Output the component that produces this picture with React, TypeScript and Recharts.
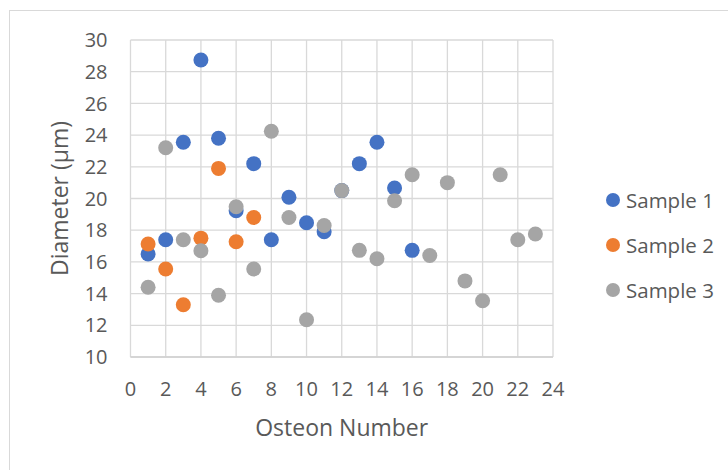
import React from 'react';
import { ScatterChart, Scatter, XAxis, YAxis, CartesianGrid } from 'recharts';

const xTicks = [0, 2, 4, 6, 8, 10, 12, 14, 16, 18, 20, 22, 24];
const yTicks = [10, 12, 14, 16, 18, 20, 22, 24, 26, 28, 30];

const sample1X = [1, 2, 3, 4, 5, 6, 7, 8, 9, 10, 11, 12, 13, 14, 15, 16];
const sample1Y = [16.5, 17.4, 23.55, 28.74, 23.8, 19.23, 22.2, 17.4, 20.08, 18.47, 17.9, 20.5, 22.2, 23.55, 20.66, 16.73];

const sample2X = [1, 2, 3, 4, 5, 6, 7];
const sample2Y = [17.13, 15.55, 13.3, 17.5, 21.9, 17.27, 18.8];

const sample3X = [1, 2, 3, 4, 5, 6, 7, 8, 9, 10, 11, 12, 13, 14, 15, 16, 17, 18, 19, 20, 21, 22, 23];
const sample3Y = [14.4, 23.2, 17.4, 16.7, 13.9, 19.48, 15.55, 24.24, 18.8, 12.35, 18.3, 20.5, 16.73, 16.2, 19.86, 21.5, 16.4, 21.0, 14.8, 13.55, 21.5, 17.4, 17.76];

const seriesNames = ['Sample 1', 'Sample 2', 'Sample 3'];
const seriesColors = ['#4472C4', '#ED7D31', '#A5A5A5'];

const toPoints = (xs: number[], ys: number[]) => xs.map((x, i) => ({ x, y: ys[i] }));
const data1 = toPoints(sample1X, sample1Y);
const data2 = toPoints(sample2X, sample2Y);
const data3 = toPoints(sample3X, sample3Y);

const FONT = '"Open Sans", sans-serif';
const TEXT = '#595959';

const dot = (color: string) => (props: any) => (
  <circle cx={props.cx} cy={props.cy} r={7.5} fill={color} />
);

const LegendBox = () => (
  <div style={{ position: 'absolute', left: 605, top: 177, fontFamily: FONT, fontSize: 20.5, color: TEXT }}>
    {seriesNames.map((n, i) => (
      <div key={n} style={{ display: 'flex', alignItems: 'center', height: 45 }}>
        <svg width={16} height={16} style={{ marginRight: 5 }}>
          <circle cx={8} cy={8} r={7} fill={seriesColors[i]} />
        </svg>
        <span>{n}</span>
      </div>
    ))}
  </div>
);

export default function App() {
  return (
    <div style={{ position: 'absolute', left: 0, top: 0, width: 728, height: 470, overflow: 'hidden', background: '#fff' }}>
      <div style={{ position: 'absolute', left: 9, top: 10, width: 780, height: 520, border: '1.5px solid #d9d9d9', boxSizing: 'border-box' }} />
      <div style={{ position: 'absolute', left: 0, top: 0 }}>
        <ScatterChart
          width={728}
          height={470}
          margin={{ top: 40, right: 175, bottom: 0, left: 0 }}
          style={{ fontFamily: FONT }}
        >
          <CartesianGrid stroke="#d9d9d9" strokeWidth={1.3} />
          <XAxis
            type="number"
            dataKey="x"
            domain={[0, 24]}
            ticks={xTicks}
            interval={0}
            height={113}
            tickLine={false}
            tickSize={0}
            tickMargin={25}
            axisLine={{ stroke: '#d0d0d0', strokeWidth: 1.5 }}
            tick={{ fill: TEXT, fontSize: 20, fontFamily: FONT }}
            label={{
              content: () => (
                <text x={341.7} y={428} dy="0.355em" textAnchor="middle" fill={TEXT} fontSize={23} fontFamily={FONT}>
                  Osteon Number
                </text>
              ),
            }}
          />
          <YAxis
            type="number"
            dataKey="y"
            domain={[10, 30]}
            ticks={yTicks}
            interval={0}
            width={130.5}
            tickLine={false}
            tickSize={0}
            tickMargin={23}
            axisLine={false}
            tick={{ fill: TEXT, fontSize: 20, fontFamily: FONT }}
            label={{
              content: () => (
                <text
                  x={60}
                  y={198.5}
                  dy="0.355em"
                  textAnchor="middle"
                  fill={TEXT}
                  fontSize={23}
                  fontFamily={FONT}
                  transform="rotate(-90 60 198.5)"
                >
                  Diameter (µm)
                </text>
              ),
            }}
          />
          <Scatter name={seriesNames[0]} data={data1} fill={seriesColors[0]} shape={dot(seriesColors[0])} isAnimationActive={false} />
          <Scatter name={seriesNames[1]} data={data2} fill={seriesColors[1]} shape={dot(seriesColors[1])} isAnimationActive={false} />
          <Scatter name={seriesNames[2]} data={data3} fill={seriesColors[2]} shape={dot(seriesColors[2])} isAnimationActive={false} />
        </ScatterChart>
      </div>
      <LegendBox />
    </div>
  );
}
